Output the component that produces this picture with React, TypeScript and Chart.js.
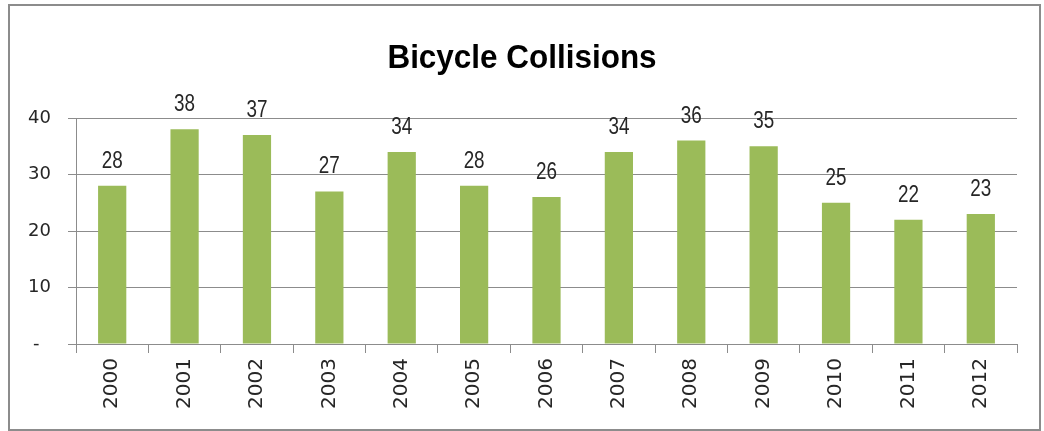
import React, { useEffect, useRef } from "react";
import { Chart, registerables } from "chart.js";

Chart.register(...registerables);

const years = ["2000", "2001", "2002", "2003", "2004", "2005", "2006", "2007", "2008", "2009", "2010", "2011", "2012"];
const collisions = [28, 38, 37, 27, 34, 28, 26, 34, 36, 35, 25, 22, 23];
const yTicks = [0, 10, 20, 30, 40];
const titleText = "Bicycle Collisions";

const GRID = "#8c8c8c";
const TEXT = "#262626";

const titlePlugin = {
  id: "customTitle",
  afterDraw(chart: any) {
    const ctx = chart.ctx;
    ctx.save();
    ctx.font = "bold 34px 'Liberation Sans', sans-serif";
    ctx.fillStyle = "#000000";
    ctx.textAlign = "center";
    ctx.textBaseline = "alphabetic";
    ctx.translate(522, 68);
    ctx.scale(0.925, 1);
    ctx.fillText(titleText, 0, 0);
    ctx.restore();
  },
};

const valueLabelPlugin = {
  id: "valueLabels",
  afterDatasetsDraw(chart: any) {
    const ctx = chart.ctx;
    const meta = chart.getDatasetMeta(0);
    ctx.font = "23px 'Liberation Sans', sans-serif";
    ctx.fillStyle = TEXT;
    ctx.textAlign = "center";
    ctx.textBaseline = "alphabetic";
    meta.data.forEach((bar: any, i: number) => {
      ctx.save();
      ctx.translate(bar.x, bar.y - 18);
      ctx.scale(0.82, 1);
      ctx.fillText(String(collisions[i]), 0, 0);
      ctx.restore();
    });
  },
};

export default function App() {
  const ref = useRef<HTMLCanvasElement | null>(null);
  useEffect(() => {
    if (!ref.current) return;
    const chart = new Chart(ref.current, {
      type: "bar",
      data: {
        labels: years,
        datasets: [
          {
            data: collisions,
            backgroundColor: "#9BBB59",
            borderWidth: 0,
            barPercentage: 0.39,
            categoryPercentage: 1,
          },
        ],
      },
      options: {
        responsive: false,
        animation: false,
        events: [],
        layout: { padding: { top: 118, left: 0, right: 27, bottom: 0 } },
        plugins: { legend: { display: false }, title: { display: false }, tooltip: { enabled: false } },
        scales: {
          x: {
            afterFit(scale: any) {
              scale.height = 87;
            },
            grid: {
              offset: true,
              drawOnChartArea: false,
              drawTicks: true,
              tickLength: 9,
              color: GRID,
            },
            border: { display: true, color: GRID },
            ticks: {
              minRotation: 90,
              maxRotation: 90,
              padding: 5,
              color: TEXT,
              font: { family: "'DejaVu Sans', sans-serif", size: 20 },
            },
          },
          y: {
            min: 0,
            max: 40,
            afterFit(scale: any) {
              scale.width = 76;
            },
            afterBuildTicks(scale: any) {
              scale.ticks = yTicks.map((v) => ({ value: v }));
            },
            grid: { color: GRID, drawTicks: true, tickLength: 8 },
            border: { display: true, color: GRID },
            ticks: {
              padding: 17,
              color: TEXT,
              font: { family: "'DejaVu Sans', sans-serif", size: 18 },
              callback: (v: any) => (v === 0 ? "-  " : String(v)),
            },
          },
        },
      },
      plugins: [titlePlugin, valueLabelPlugin],
    });
    return () => chart.destroy();
  }, []);

  return (
    <div style={{ position: "absolute", left: 0, top: 0, width: 1044, height: 431, background: "#fff" }}>
      <div
        style={{
          position: "absolute",
          left: 8,
          top: 4,
          width: 1033,
          height: 427,
          boxSizing: "border-box",
          border: "2px solid #8c8c8c",
        }}
      />
      <canvas ref={ref} width={1044} height={431} style={{ position: "absolute", left: 0, top: 0 }} />
    </div>
  );
}
